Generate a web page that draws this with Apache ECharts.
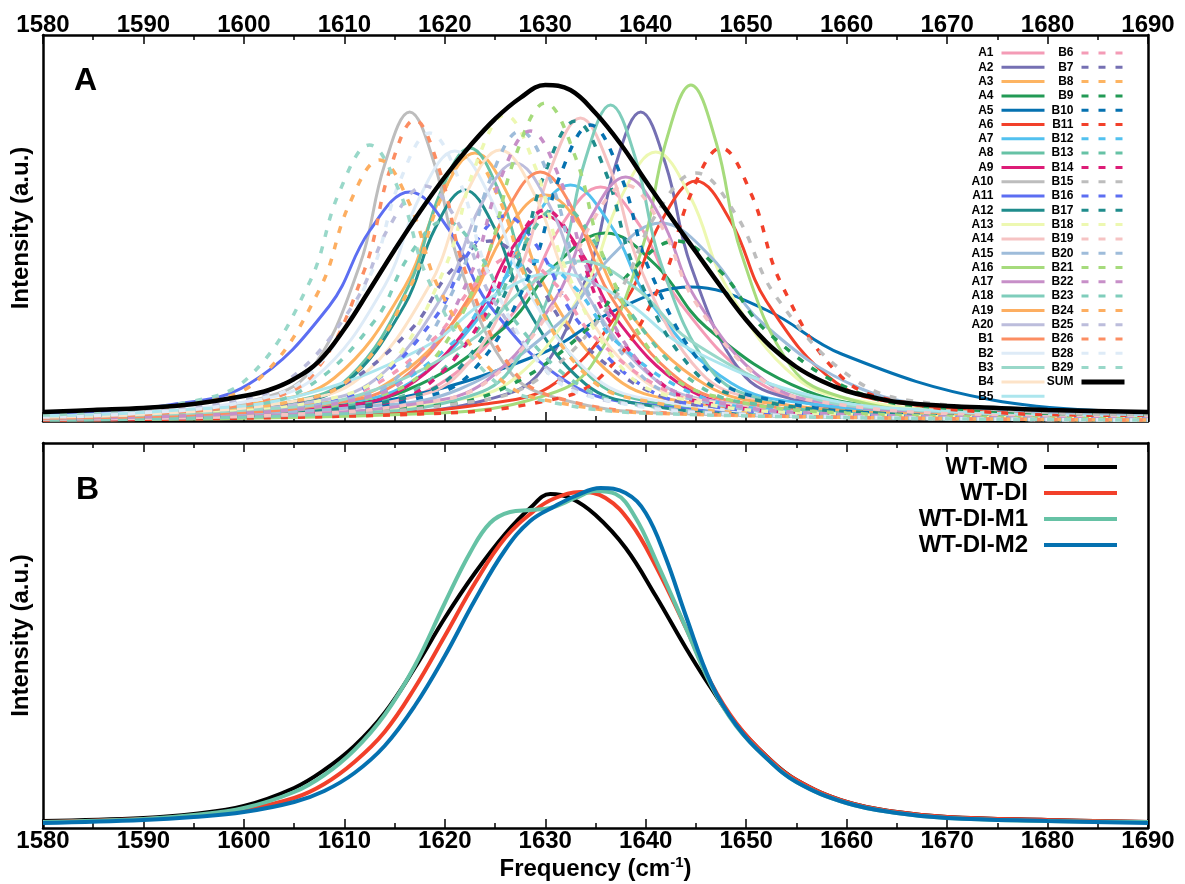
<!DOCTYPE html>
<html><head><meta charset="utf-8">
<script src="https://cdn.jsdelivr.net/npm/echarts@6/dist/echarts.min.js"></script>
<style>html,body{margin:0;padding:0;background:#fff}#c{width:1185px;height:884px}</style>
</head><body><div id="c"></div>
<script>
// ---- Panel A components: [frequency (cm-1), intensity (a.u.)] ----
const A1 = [[1580,3],[1595.5,6],[1611.5,16],[1619.5,37],[1627.5,117],[1631.5,194],[1635.5,234],[1639.5,194],[1643.5,117],[1651.5,37],[1659.5,16],[1675.5,6],[1690,3]];
const A2 = [[1580,1],[1614.5,8],[1624.5,22],[1629.5,49],[1634.5,155],[1637,256],[1639.5,309],[1642,256],[1644.5,155],[1649.5,49],[1654.5,22],[1664.5,8],[1690,2]];
const A3 = [[1580,4],[1588,7],[1602,19],[1609,43],[1616,134],[1619.5,222],[1623,268],[1626.5,222],[1630,134],[1637,43],[1644,19],[1658,7],[1690,2]];
const A4 = [[1580,4],[1586,5],[1606,13],[1616,30],[1626,94],[1631,156],[1636,188],[1641,156],[1646,94],[1656,30],[1666,13],[1686,5],[1690,4]];
const A5 = [[1580,4],[1599.5,9],[1614.5,21],[1629.5,67],[1637,111],[1644.5,134],[1652,111],[1659.5,67],[1674.5,21],[1690,9]];
const A6 = [[1580,2],[1610,6],[1624,17],[1631,38],[1638,120],[1641.5,199],[1645,240],[1648.5,199],[1652,120],[1659,38],[1666,17],[1680,6],[1690,3]];
const A7 = [[1580,3],[1592.5,6],[1608.5,17],[1616.5,38],[1624.5,118],[1628.5,196],[1632.5,236],[1636.5,196],[1640.5,118],[1648.5,38],[1656.5,17],[1672.5,6],[1690,3]];
const A8 = [[1580,3],[1592.5,7],[1604.5,19],[1610.5,44],[1616.5,137],[1619.5,227],[1622.5,273],[1625.5,227],[1628.5,137],[1634.5,44],[1640.5,19],[1652.5,7],[1690,1]];
const A9 = [[1580,2],[1595,5],[1609,14],[1616,33],[1623,103],[1626.5,170],[1630,205],[1633.5,170],[1637,103],[1644,33],[1651,14],[1665,5],[1690,2]];
const A10 = [[1580,3],[1591.5,8],[1601.5,22],[1606.5,49],[1611.5,155],[1614,256],[1616.5,309],[1619,256],[1621.5,155],[1626.5,49],[1631.5,22],[1641.5,8],[1690,1]];
const A11 = [[1580,6],[1592.5,16],[1600.5,37],[1608.5,115],[1612.5,190],[1616.5,229],[1620.5,190],[1624.5,115],[1632.5,37],[1640.5,16],[1656.5,6],[1690,2]];
const A12 = [[1580,3],[1592,6],[1604,16],[1610,37],[1616,116],[1619,192],[1622,231],[1625,192],[1628,116],[1634,37],[1640,16],[1652,6],[1690,1]];
const A13 = [[1580,2],[1606,7],[1620,19],[1627,43],[1634,135],[1637.5,223],[1641,269],[1644.5,223],[1648,135],[1655,43],[1662,19],[1676,7],[1690,3]];
const A14 = [[1580,2],[1603.5,8],[1615.5,21],[1621.5,48],[1627.5,152],[1630.5,251],[1633.5,303],[1636.5,251],[1639.5,152],[1645.5,48],[1651.5,21],[1663.5,8],[1690,2]];
const A15 = [[1580,3],[1591.5,5],[1611.5,14],[1621.5,32],[1631.5,99],[1636.5,164],[1641.5,198],[1646.5,164],[1651.5,99],[1661.5,32],[1671.5,14],[1690,5]];
const A16 = [[1580,1],[1619.5,8],[1629.5,24],[1634.5,54],[1639.5,168],[1642,279],[1644.5,336],[1647,279],[1649.5,168],[1654.5,54],[1659.5,24],[1669.5,8],[1690,2]];
const A17 = [[1580,2],[1603,6],[1617,17],[1624,39],[1631,122],[1634.5,203],[1638,244],[1641.5,203],[1645,122],[1652,39],[1659,17],[1673,6],[1690,3]];
const A18 = [[1580,1],[1611.5,8],[1621.5,22],[1626.5,51],[1631.5,158],[1634,262],[1636.5,316],[1639,262],[1641.5,158],[1646.5,51],[1651.5,22],[1661.5,8],[1690,2]];
const A19 = [[1580,3],[1590,6],[1606,16],[1614,36],[1622,113],[1626,188],[1630,226],[1634,188],[1638,113],[1646,36],[1654,16],[1670,6],[1690,2]];
const A20 = [[1580,3],[1592,6],[1606,18],[1613,41],[1620,129],[1623.5,214],[1627,258],[1630.5,214],[1634,129],[1641,41],[1648,18],[1662,6],[1690,2]];
const B1 = [[1580,3],[1594.5,6],[1608.5,17],[1615.5,40],[1622.5,125],[1626,207],[1629.5,249],[1633,207],[1636.5,125],[1643.5,40],[1650.5,17],[1664.5,6],[1690,2]];
const B2 = [[1580,5],[1586,7],[1600,19],[1607,43],[1614,135],[1617.5,224],[1621,270],[1624.5,224],[1628,135],[1635,43],[1642,19],[1656,7],[1690,2]];
const B3 = [[1580,4],[1600.5,11],[1611.5,26],[1622.5,80],[1628,133],[1633.5,160],[1639,133],[1644.5,80],[1655.5,26],[1666.5,11],[1690,4]];
const B4 = [[1580,4],[1590.5,7],[1604.5,19],[1611.5,43],[1618.5,136],[1622,225],[1625.5,271],[1629,225],[1632.5,136],[1639.5,43],[1646.5,19],[1660.5,7],[1690,2]];
const B5 = [[1580,5],[1592,10],[1605,24],[1618,74],[1624.5,123],[1631,148],[1637.5,123],[1644,74],[1657,24],[1670,10],[1690,4]];
const B6 = [[1580,3],[1587,4],[1603,12],[1611,26],[1619,83],[1623,137],[1627,165],[1631,137],[1635,83],[1643,26],[1651,12],[1667,4],[1690,2]];
const B7 = [[1580,3],[1584.5,5],[1600.5,13],[1608.5,29],[1616.5,90],[1620.5,149],[1624.5,180],[1628.5,149],[1632.5,90],[1640.5,29],[1648.5,13],[1664.5,5],[1690,2]];
const B8 = [[1580,3],[1592.5,7],[1604.5,19],[1610.5,42],[1616.5,133],[1619.5,220],[1622.5,265],[1625.5,220],[1628.5,133],[1634.5,42],[1640.5,19],[1652.5,7],[1690,1]];
const B9 = [[1580,2],[1598,5],[1616,13],[1625,29],[1634,90],[1638.5,149],[1643,180],[1647.5,149],[1652,90],[1661,29],[1670,13],[1690,5]];
const B10 = [[1580,2],[1604.5,7],[1616.5,21],[1622.5,47],[1628.5,148],[1631.5,246],[1634.5,296],[1637.5,246],[1640.5,148],[1646.5,47],[1652.5,21],[1664.5,7],[1690,2]];
const B11 = [[1580,1],[1617.5,7],[1629.5,19],[1635.5,44],[1641.5,137],[1644.5,227],[1647.5,273],[1650.5,227],[1653.5,137],[1659.5,44],[1665.5,19],[1677.5,7],[1690,3]];
const B12 = [[1580,2],[1589,4],[1605,11],[1613,26],[1621,80],[1625,133],[1629,160],[1633,133],[1637,80],[1645,26],[1653,11],[1669,4],[1690,2]];
const B13 = [[1580,2],[1596.5,5],[1610.5,15],[1617.5,34],[1624.5,108],[1628,178],[1631.5,215],[1635,178],[1638.5,108],[1645.5,34],[1652.5,15],[1666.5,5],[1690,2]];
const B14 = [[1580,2],[1600,5],[1612,15],[1618,34],[1624,106],[1627,175],[1630,211],[1633,175],[1636,106],[1642,34],[1648,15],[1660,5],[1690,1]];
const B15 = [[1580,2],[1605,6],[1621,17],[1629,40],[1637,124],[1641,206],[1645,248],[1649,206],[1653,124],[1661,40],[1669,17],[1690,5]];
const B16 = [[1580,3],[1591,5],[1605,14],[1612,33],[1619,103],[1622.5,170],[1626,205],[1629.5,170],[1633,103],[1640,33],[1647,14],[1661,5],[1690,2]];
const B17 = [[1580,2],[1603,8],[1615,21],[1621,48],[1627,150],[1630,249],[1633,300],[1636,249],[1639,150],[1645,48],[1651,21],[1663,8],[1690,2]];
const B18 = [[1580,3],[1596,8],[1608,21],[1614,49],[1620,153],[1623,254],[1626,306],[1629,254],[1632,153],[1638,49],[1644,21],[1656,8],[1690,2]];
const B19 = [[1580,2],[1603,6],[1617,17],[1624,38],[1631,118],[1634.5,196],[1638,236],[1641.5,196],[1645,118],[1652,38],[1659,17],[1673,6],[1690,3]];
const B20 = [[1580,3],[1597.5,7],[1609.5,20],[1615.5,46],[1621.5,145],[1624.5,241],[1627.5,290],[1630.5,241],[1633.5,145],[1639.5,46],[1645.5,20],[1657.5,7],[1690,2]];
const B21 = [[1580,3],[1600,8],[1612,22],[1618,51],[1624,159],[1627,264],[1630,318],[1633,264],[1636,159],[1642,51],[1648,22],[1660,8],[1690,2]];
const B22 = [[1580,3],[1598.5,7],[1610.5,20],[1616.5,46],[1622.5,145],[1625.5,241],[1628.5,290],[1631.5,241],[1634.5,145],[1640.5,46],[1646.5,20],[1658.5,7],[1690,2]];
const B23 = [[1580,4],[1585,5],[1599,14],[1606,32],[1613,100],[1616.5,166],[1620,200],[1623.5,166],[1627,100],[1634,32],[1641,14],[1655,5],[1690,1]];
const B24 = [[1580,5],[1583.5,7],[1595.5,18],[1601.5,42],[1607.5,131],[1610.5,217],[1613.5,261],[1616.5,217],[1619.5,131],[1625.5,42],[1631.5,18],[1643.5,7],[1690,1]];
const B25 = [[1580,5],[1583,6],[1597,16],[1604,38],[1611,118],[1614.5,195],[1618,235],[1621.5,195],[1625,118],[1632,38],[1639,16],[1653,6],[1690,1]];
const B26 = [[1580,3],[1592,8],[1602,21],[1607,48],[1612,151],[1614.5,250],[1617,301],[1619.5,250],[1622,151],[1627,48],[1632,21],[1642,8],[1690,1]];
const B28 = [[1580,4],[1588.5,7],[1600.5,20],[1606.5,46],[1612.5,144],[1615.5,239],[1618.5,288],[1621.5,239],[1624.5,144],[1630.5,46],[1636.5,20],[1648.5,7],[1690,1]];
const B29 = [[1580,6],[1582.5,7],[1594.5,19],[1600.5,44],[1606.5,138],[1609.5,229],[1612.5,276],[1615.5,229],[1618.5,138],[1624.5,44],[1630.5,19],[1642.5,7],[1690,1]];
const SUM = [[1580,9],[1585,11],[1590,13],[1595,17],[1600,25],[1602.5,31],[1605,42],[1607.5,60],[1610,92],[1612.5,131],[1615,171],[1617.5,209],[1620,244],[1622.5,275],[1625,302],[1627.5,323],[1630,336],[1632.5,331],[1635,308],[1637.5,277],[1640,240],[1642.5,204],[1645,169],[1647.5,134],[1650,101],[1652.5,74],[1655,54],[1657.5,40],[1660,30],[1662.5,24],[1665,19],[1670,15],[1675,13],[1680,11],[1690,9]];

// ---- Panel B spectra ----
const WT_MO = [[1580,7],[1590,10],[1595,14],[1600,22],[1605,40],[1608,58],[1611,82],[1614,115],[1617,160],[1620,210],[1623,255],[1626,294],[1628.5,320],[1630.5,334],[1632.5,330],[1635,313],[1638,280],[1641,232],[1644,180],[1646.5,140],[1649,104],[1652,72],[1655,48],[1660,26],[1665,16],[1670,11],[1680,8],[1690,6]];
const WT_DI = [[1580,6],[1590,9],[1595,12],[1600,18],[1605,30],[1608,44],[1611,66],[1614,96],[1617,140],[1620,192],[1623,245],[1626,290],[1629,318],[1631,330],[1633.5,336],[1636,330],[1638.5,305],[1641,262],[1644,200],[1646.5,145],[1649,105],[1652,72],[1655,48],[1660,26],[1665,16],[1670,11],[1680,8],[1690,6]];
const WT_DI_M1 = [[1580,6],[1590,9],[1595,13],[1600,20],[1605,36],[1608,53],[1611,78],[1614,113],[1617,162],[1620,225],[1622.5,275],[1624.5,305],[1626.5,316],[1628.5,318],[1630.5,320],[1633,330],[1635,337],[1637,334],[1639,310],[1641,268],[1644,200],[1646.5,143],[1649,102],[1652,70],[1655,46],[1660,25],[1665,15],[1670,10],[1680,7],[1690,6]];
const WT_DI_M2 = [[1580,5],[1590,8],[1595,11],[1600,16],[1605,26],[1608,37],[1611,55],[1614,82],[1617,122],[1620,172],[1623,228],[1626,278],[1628.5,307],[1631,322],[1633,332],[1635.5,340],[1638,335],[1640,315],[1642,270],[1644,212],[1646.5,145],[1649,103],[1652,70],[1655,46],[1660,25],[1665,15],[1670,10],[1680,7],[1690,5]];

const solidNames = ['A1','A2','A3','A4','A5','A6','A7','A8','A9','A10','A11','A12','A13','A14','A15','A16','A17','A18','A19','A20','B1','B2','B3','B4','B5'];
const solidData = [A1,A2,A3,A4,A5,A6,A7,A8,A9,A10,A11,A12,A13,A14,A15,A16,A17,A18,A19,A20,B1,B2,B3,B4,B5];
const dashedNames = ['B6','B7','B8','B9','B10','B11','B12','B13','B14','B15','B16','B17','B18','B19','B20','B21','B22','B23','B24','B25','B26','B28','B29'];
const dashedData = [B6,B7,B8,B9,B10,B11,B12,B13,B14,B15,B16,B17,B18,B19,B20,B21,B22,B23,B24,B25,B26,B28,B29];
const palette = ['#f49bb6','#7570b3','#fdb462','#229a55','#0571b0','#f2402a','#52c1ef','#66c2a5','#dd1c77','#bdbdbd','#5c6ef2','#1f8c8c','#edf8b1','#f6c3c3','#9ebcda','#a6db7c','#c78fc8','#7fcdbb','#fdae61','#bcbddc','#fc8d62','#deebf7','#99d8c9','#fde3c8','#ace6ee'];
const panelBNames = ['WT-MO','WT-DI','WT-DI-M1','WT-DI-M2'];
const panelBData = [WT_MO, WT_DI, WT_DI_M1, WT_DI_M2];
const panelBColors = ['#000000','#f2402a','#66c2a5','#0571b0'];

const FONT = '"Liberation Sans", Arial, Helvetica, sans-serif';
const chart = echarts.init(document.getElementById('c'), null, {renderer: 'canvas'});

function xAx(grid, pos, labels, extra) {
  return Object.assign({
    type: 'value', gridIndex: grid, position: pos, min: 1580, max: 1690, interval: 10,
    axisLine: {show: true, onZero: false, lineStyle: {color: '#000', width: 2.5}},
    axisTick: {show: true, inside: true, length: 9, lineStyle: {color: '#000', width: 1.5}},
    minorTick: {show: true, splitNumber: 2, length: 5, lineStyle: {color: '#000', width: 1.5}},
    splitLine: {show: false}, minorSplitLine: {show: false},
    axisLabel: {show: labels, color: '#000', fontSize: 24, fontWeight: 'bold', fontFamily: FONT,
      margin: pos === 'top' ? -2 : 1, formatter: v => String(v)}
  }, extra || {});
}
function yAx(grid, pos, max, name) {
  return {
    type: 'value', gridIndex: grid, position: pos, min: 0, max: max,
    axisLine: {show: true, onZero: false, lineStyle: {color: '#000', width: 2.5}},
    axisTick: {show: false}, axisLabel: {show: false}, splitLine: {show: false},
    name: name || '', nameLocation: 'middle', nameRotate: 90, nameGap: 10,
    nameTextStyle: {color: '#000', fontSize: 24, fontWeight: 'bold', fontFamily: FONT}
  };
}

const series = [];
solidNames.forEach((n, i) => series.push({
  name: n, type: 'line', xAxisIndex: 0, yAxisIndex: 0, data: solidData[i],
  symbol: 'none', smooth: 0.4, color: palette[i],
  lineStyle: {color: palette[i], width: 3}
}));
dashedNames.forEach((n, i) => series.push({
  name: n, type: 'line', xAxisIndex: 0, yAxisIndex: 0, data: dashedData[i],
  symbol: 'none', smooth: 0.4, color: palette[i],
  lineStyle: {color: palette[i], width: 3.5, type: [7, 10]}
}));
series.push({name: 'SUM', type: 'line', xAxisIndex: 0, yAxisIndex: 0, data: SUM,
  symbol: 'none', smooth: 0.4, color: '#000', lineStyle: {color: '#000', width: 4.5}});
panelBNames.forEach((n, i) => series.push({
  name: n, type: 'line', xAxisIndex: 3, yAxisIndex: 2, data: panelBData[i],
  symbol: 'none', smooth: 0.4, color: panelBColors[i],
  lineStyle: {color: panelBColors[i], width: 4}
}));

const hiddenSymbol = {opacity: 0, borderWidth: 0};
const legTextA = {color: '#000', fontSize: 12, fontWeight: 'bold', fontFamily: FONT, lineHeight: 12, padding: [0, 3, 0, 0]};
chart.setOption({
  animation: false,
  backgroundColor: '#fff',
  title: [
    {text: 'A', left: 74, top: 65, padding: 0, textStyle: {fontSize: 32, fontWeight: 'bold', fontFamily: FONT, color: '#000'}},
    {text: 'B', left: 76, top: 474, padding: 0, textStyle: {fontSize: 32, fontWeight: 'bold', fontFamily: FONT, color: '#000'}}
  ],
  grid: [
    {left: 43, right: 37, top: 35, height: 386, outerBoundsMode: 'none', containLabel: false},
    {left: 43, right: 37, top: 443, height: 385, outerBoundsMode: 'none', containLabel: false}
  ],
  xAxis: [
    xAx(0, 'top', true),
    xAx(0, 'bottom', false),
    xAx(1, 'top', false),
    xAx(1, 'bottom', true, {
      name: 'Frequency (cm{sup|-1})', nameLocation: 'middle', nameGap: 27,
      nameTextStyle: {color: '#000', fontSize: 24, fontWeight: 'bold', fontFamily: FONT, lineHeight: 28,
        rich: {sup: {fontSize: 15, fontWeight: 'bold', fontFamily: FONT, color: '#000', verticalAlign: 'top', lineHeight: 15}}}
    })
  ],
  yAxis: [
    yAx(0, 'left', 386, 'Intensity (a.u.)'),
    yAx(0, 'right', 386),
    yAx(1, 'left', 385, 'Intensity (a.u.)'),
    yAx(1, 'right', 385)
  ],
  legend: [
    {data: solidNames, orient: 'vertical', align: 'right', right: 139, top: 47, padding: 0,
      itemWidth: 43, itemHeight: 12, itemGap: 2.3, textStyle: legTextA, lineStyle: {width: 3}, itemStyle: hiddenSymbol},
    {data: dashedNames.map(n => ({name: n})).concat([{name: 'SUM', lineStyle: {width: 5}}]),
      orient: 'vertical', align: 'right', right: 58, top: 47, padding: 0,
      itemWidth: 43, itemHeight: 12, itemGap: 2.3, textStyle: legTextA, lineStyle: {width: 3}, itemStyle: hiddenSymbol},
    {data: panelBNames, orient: 'vertical', align: 'right', right: 66, top: 455, padding: 0,
      itemWidth: 73, itemHeight: 24, itemGap: 2, lineStyle: {width: 4}, itemStyle: hiddenSymbol,
      textStyle: {color: '#000', fontSize: 24, fontWeight: 'bold', fontFamily: FONT, lineHeight: 24, padding: [0, 11, 0, 0]}}
  ],
  series: series
});
</script></body></html>
